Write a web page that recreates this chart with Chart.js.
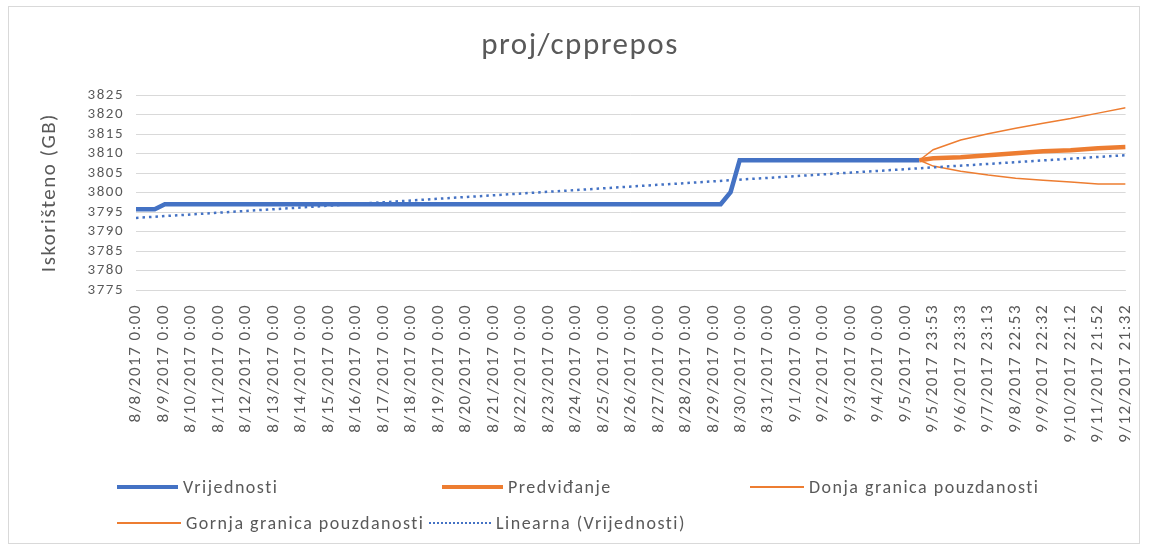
<!DOCTYPE html>
<html>
<head>
<meta charset="utf-8">
<title>proj/cpprepos</title>
<script src="https://cdn.jsdelivr.net/npm/chart.js@4/dist/chart.umd.min.js"></script>
<style>
  html, body { margin: 0; padding: 0; background: #fff; }
  body { width: 1152px; height: 553px; position: relative; overflow: hidden;
         font-family: 'Carlito', 'Open Sans', sans-serif; color: #595959; }
  .frame { position: absolute; left: 8px; top: 6px; width: 1132px; height: 538px;
           border: 1px solid #d9d9d9; box-sizing: border-box; }
  #wrap { position: absolute; left: 0; top: 0; width: 1152px; height: 553px; }
  .lg { position: absolute; display: flex; align-items: center; font-size: 18px;
        letter-spacing: 1.5px; white-space: nowrap; }
  .lg i { display: inline-block; margin-right: 5px; }
</style>
</head>
<body>
<div class="frame"></div>
<div id="wrap"><canvas id="chart"></canvas></div>

<!-- legenda -->
<div class="lg" style="left:117px; top:476px;"><i style="width:61px;border-top:4.5px solid #4472c4"></i>Vrijednosti</div>
<div class="lg" style="left:442px; top:476px;"><i style="width:61px;border-top:4.5px solid #ed7d31"></i>Predviđanje</div>
<div class="lg" style="left:750px; top:476px;"><i style="width:54px;border-top:2px solid #ed7d31"></i>Donja granica pouzdanosti</div>
<div class="lg" style="left:117px; top:512px;"><i style="width:64px;border-top:2px solid #ed7d31"></i>Gornja granica pouzdanosti</div>
<div class="lg" style="left:429px; top:512px;"><i style="width:62px;border-top:2.5px dotted #4472c4"></i>Linearna (Vrijednosti)</div>

<script>
/* ── podaci ── */
const xLabels = [
  '8/8/2017 0:00', '8/9/2017 0:00', '8/10/2017 0:00', '8/11/2017 0:00', '8/12/2017 0:00',
  '8/13/2017 0:00', '8/14/2017 0:00', '8/15/2017 0:00', '8/16/2017 0:00', '8/17/2017 0:00',
  '8/18/2017 0:00', '8/19/2017 0:00', '8/20/2017 0:00', '8/21/2017 0:00', '8/22/2017 0:00',
  '8/23/2017 0:00', '8/24/2017 0:00', '8/25/2017 0:00', '8/26/2017 0:00', '8/27/2017 0:00',
  '8/28/2017 0:00', '8/29/2017 0:00', '8/30/2017 0:00', '8/31/2017 0:00', '9/1/2017 0:00',
  '9/2/2017 0:00', '9/3/2017 0:00', '9/4/2017 0:00', '9/5/2017 0:00', '9/5/2017 23:53',
  '9/6/2017 23:33', '9/7/2017 23:13', '9/8/2017 22:53', '9/9/2017 22:32', '9/10/2017 22:12',
  '9/11/2017 21:52', '9/12/2017 21:32'
];
const yTicks = [3775, 3780, 3785, 3790, 3795, 3800, 3805, 3810, 3815, 3820, 3825];

// stvarne vrijednosti (položaj na osi = indeks oznake)
const actualPos = [0, 0.68, 1.05, 21.27, 21.63, 21.96, 28.5];
const actualVal = [3795.7, 3795.7, 3797.0, 3797.0, 3800.1, 3808.3, 3808.3];

// predviđanje i granice pouzdanosti
const forecastPos = [28.5, 29, 30, 31, 32, 33, 34, 35, 36];
const forecastVal = [3808.3, 3808.8, 3809.1, 3809.6, 3810.1, 3810.6, 3810.9, 3811.4, 3811.7];
const lowerVal    = [3808.3, 3806.8, 3805.5, 3804.5, 3803.7, 3803.2, 3802.7, 3802.2, 3802.2];
const upperVal    = [3808.3, 3811.0, 3813.5, 3815.1, 3816.5, 3817.8, 3819.0, 3820.4, 3821.8];

// linearni trend
const trendPos = [0, 36];
const trendVal = [3793.5, 3809.6];

const pts = (xs, ys) => xs.map((x, i) => ({ x, y: ys[i] }));

const textColor = '#595959';
const gridColor = '#d9d9d9';
const fontFamily = "'Carlito', 'Open Sans', sans-serif";

// Excel-ov tekst je malo razmaknutiji
const spacing = {
  id: 'spacing',
  beforeUpdate: c => { c.ctx.letterSpacing = '1.5px'; },
  beforeDraw: c => { c.ctx.letterSpacing = '1.5px'; }
};

new Chart(document.getElementById('chart'), {
  type: 'line',
  plugins: [spacing],
  data: {
    datasets: [
      { label: 'Vrijednosti', data: pts(actualPos, actualVal), borderColor: '#4472c4', borderWidth: 4.5, order: 5 },
      { label: 'Predviđanje', data: pts(forecastPos, forecastVal), borderColor: '#ed7d31', borderWidth: 4.5, order: 4 },
      { label: 'Donja granica pouzdanosti', data: pts(forecastPos, lowerVal), borderColor: '#ed7d31', borderWidth: 1.5, order: 3 },
      { label: 'Gornja granica pouzdanosti', data: pts(forecastPos, upperVal), borderColor: '#ed7d31', borderWidth: 1.5, order: 2 },
      { label: 'Linearna (Vrijednosti)', data: pts(trendPos, trendVal), borderColor: '#4472c4', borderWidth: 2.5,
        borderDash: [2.5, 4], order: 1 }
    ]
  },
  options: {
    responsive: true,
    maintainAspectRatio: false,
    animation: false,
    elements: { point: { radius: 0 }, line: { tension: 0, fill: false, borderCapStyle: 'butt' } },
    layout: { padding: { left: 30, right: 22, top: 10, bottom: 88 } },
    plugins: {
      legend: { display: false },
      tooltip: { enabled: false },
      title: {
        display: true,
        text: 'proj/cpprepos',
        color: textColor,
        font: { family: fontFamily, size: 31, weight: 'normal' },
        padding: { top: 18, bottom: 30 }
      }
    },
    scales: {
      x: {
        type: 'linear',
        min: 0,
        max: xLabels.length - 1,
        grid: { display: false },
        border: { display: true, color: gridColor },
        afterFit: s => { s.height = 175; },
        afterBuildTicks: s => { s.ticks = xLabels.map((_, i) => ({ value: i })); },
        ticks: {
          autoSkip: false,
          maxRotation: 90,
          minRotation: 90,
          padding: 6,
          color: textColor,
          font: { family: fontFamily, size: 17 },
          callback: v => xLabels[v] ?? ''
        }
      },
      y: {
        min: yTicks[0],
        max: yTicks[yTicks.length - 1],
        afterFit: s => { s.width = 106; },
        afterBuildTicks: s => { s.ticks = yTicks.map(v => ({ value: v })); },
        grid: { color: gridColor, drawTicks: false },
        border: { display: false },
        ticks: {
          autoSkip: false,
          padding: 12,
          color: textColor,
          font: { family: fontFamily, size: 15 },
          callback: v => String(v)
        },
        title: {
          display: true,
          text: 'Iskorišteno (GB)',
          color: textColor,
          font: { family: fontFamily, size: 21 },
          padding: { top: 7, bottom: 0 }
        }
      }
    }
  }
});
</script>
</body>
</html>
